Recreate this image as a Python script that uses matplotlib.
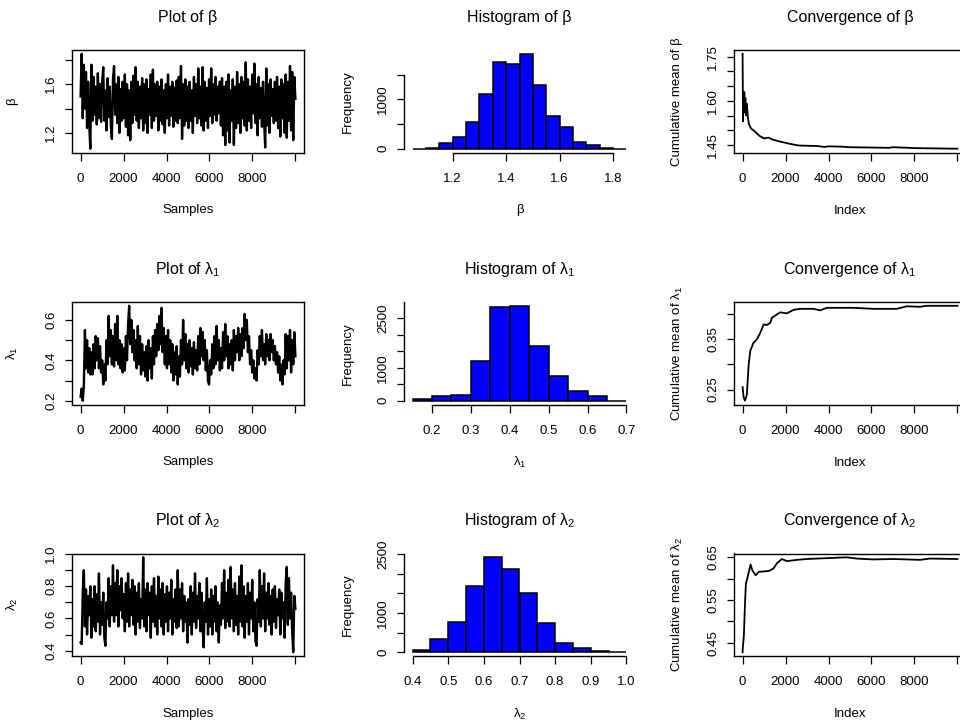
import numpy as np
import matplotlib.pyplot as plt

plt.rcParams['font.family'] = ['Liberation Sans', 'DejaVu Sans']
plt.rcParams['mathtext.fontset'] = 'custom'
plt.rcParams['mathtext.rm'] = 'Liberation Sans'
plt.rcParams['mathtext.it'] = 'Liberation Sans'
plt.rcParams['mathtext.default'] = 'regular'

# ---- trace values (one value per ~50 samples) ----
beta_trace = [
    1.50, 1.85, 1.32, 1.76, 1.40, 1.70, 1.24, 1.62, 1.28, 1.07,
    1.76, 1.30, 1.66, 1.35, 1.58, 1.27, 1.69, 1.32, 1.60, 1.29,
    1.62, 1.74, 1.30, 1.55, 1.22, 1.65, 1.33, 1.58, 1.26, 1.15,
    1.64, 1.75, 1.35, 1.60, 1.28, 1.66, 1.20, 1.56, 1.30, 1.62,
    1.32, 1.68, 1.25, 1.60, 1.18, 1.55, 1.14, 1.62, 1.28, 1.67,
    1.35, 1.74, 1.30, 1.62, 1.24, 1.58, 1.32, 1.65, 1.22, 1.60,
    1.28, 1.64, 1.20, 1.56, 1.35, 1.68, 1.24, 1.72, 1.30, 1.60,
    1.34, 1.62, 1.22, 1.58, 1.30, 1.64, 1.27, 1.55, 1.20, 1.60,
    1.32, 1.68, 1.26, 1.58, 1.34, 1.62, 1.25, 1.57, 1.30, 1.63,
    1.28, 1.66, 1.32, 1.75, 1.15, 1.60, 1.26, 1.64, 1.30, 1.58,
    1.24, 1.62, 1.30, 1.55, 1.20, 1.66, 1.34, 1.60, 1.28, 1.73,
    1.32, 1.58, 1.26, 1.74, 1.22, 1.62, 1.30, 1.57, 1.24, 1.64,
    1.34, 1.73, 1.28, 1.60, 1.35, 1.66, 1.30, 1.58, 1.36, 1.62,
    1.26, 1.65, 1.18, 1.58, 1.10, 1.62, 1.22, 1.68, 1.12, 1.55,
    1.30, 1.64, 1.10, 1.58, 1.24, 1.70, 1.28, 1.60, 1.20, 1.66,
    1.32, 1.62, 1.26, 1.78, 1.22, 1.64, 1.30, 1.58, 1.24, 1.68,
    1.36, 1.77, 1.28, 1.60, 1.18, 1.66, 1.32, 1.57, 1.25, 1.62,
    1.30, 1.08, 1.73, 1.26, 1.60, 1.20, 1.64, 1.34, 1.56, 1.28,
    1.62, 1.30, 1.66, 1.24, 1.58, 1.17, 1.64, 1.32, 1.60, 1.20,
    1.68, 1.16, 1.62, 1.30, 1.75, 1.22, 1.70, 1.14, 1.66, 1.48,
]

lam1_trace = [
    0.22, 0.26, 0.20, 0.27, 0.55, 0.36, 0.50, 0.34, 0.46, 0.33,
    0.44, 0.33, 0.48, 0.36, 0.52, 0.40, 0.51, 0.36, 0.47, 0.34,
    0.40, 0.28, 0.38, 0.30, 0.50, 0.38, 0.62, 0.42, 0.55, 0.38,
    0.52, 0.37, 0.58, 0.40, 0.62, 0.38, 0.50, 0.36, 0.48, 0.34,
    0.46, 0.35, 0.52, 0.40, 0.58, 0.67, 0.48, 0.60, 0.44, 0.55,
    0.40, 0.50, 0.36, 0.57, 0.38, 0.52, 0.33, 0.48, 0.35, 0.44,
    0.32, 0.47, 0.30, 0.50, 0.36, 0.46, 0.31, 0.52, 0.38, 0.55,
    0.42, 0.58, 0.45, 0.62, 0.48, 0.66, 0.44, 0.56, 0.38, 0.52,
    0.36, 0.55, 0.38, 0.50, 0.34, 0.48, 0.30, 0.44, 0.33, 0.47,
    0.28, 0.42, 0.32, 0.50, 0.38, 0.60, 0.40, 0.53, 0.36, 0.48,
    0.34, 0.50, 0.37, 0.46, 0.33, 0.49, 0.36, 0.45, 0.35, 0.52,
    0.38, 0.56, 0.42, 0.54, 0.40, 0.50, 0.35, 0.45, 0.30, 0.28,
    0.40, 0.33, 0.48, 0.36, 0.52, 0.38, 0.57, 0.40, 0.50, 0.35,
    0.46, 0.36, 0.54, 0.40, 0.58, 0.42, 0.52, 0.36, 0.48, 0.38,
    0.50, 0.35, 0.55, 0.40, 0.52, 0.44, 0.56, 0.40, 0.53, 0.42,
    0.56, 0.46, 0.63, 0.50, 0.60, 0.44, 0.52, 0.38, 0.45, 0.34,
    0.40, 0.31, 0.36, 0.30, 0.45, 0.38, 0.52, 0.42, 0.55, 0.40,
    0.48, 0.38, 0.53, 0.42, 0.50, 0.40, 0.53, 0.44, 0.50, 0.40,
    0.47, 0.38, 0.44, 0.34, 0.42, 0.30, 0.38, 0.28, 0.40, 0.33,
    0.53, 0.36, 0.52, 0.40, 0.55, 0.34, 0.50, 0.38, 0.54, 0.42,
]

lam2_trace = [
    0.45, 0.44, 0.76, 0.90, 0.55, 0.78, 0.50, 0.74, 0.62, 0.80,
    0.48, 0.72, 0.55, 0.80, 0.52, 0.75, 0.58, 0.88, 0.50, 0.70,
    0.56, 0.76, 0.48, 0.43, 0.70, 0.60, 0.85, 0.55, 0.80, 0.62,
    0.93, 0.58, 0.82, 0.62, 0.90, 0.55, 0.80, 0.65, 0.85, 0.60,
    0.75, 0.52, 0.82, 0.58, 0.88, 0.55, 0.78, 0.62, 0.84, 0.56,
    0.80, 0.50, 0.76, 0.58, 0.82, 0.54, 0.72, 0.60, 0.98, 0.55,
    0.78, 0.52, 0.82, 0.62, 0.76, 0.48, 0.80, 0.58, 0.85, 0.55,
    0.74, 0.50, 0.86, 0.60, 0.78, 0.55, 0.82, 0.50, 0.75, 0.58,
    0.80, 0.52, 0.76, 0.60, 0.84, 0.50, 0.72, 0.58, 0.78, 0.54,
    0.90, 0.55, 0.78, 0.60, 0.82, 0.52, 0.74, 0.58, 0.70, 0.45,
    0.72, 0.56, 0.80, 0.50, 0.76, 0.58, 0.88, 0.54, 0.74, 0.60,
    0.82, 0.52, 0.76, 0.55, 0.42, 0.70, 0.58, 0.85, 0.50, 0.72,
    0.55, 0.78, 0.50, 0.74, 0.58, 0.80, 0.52, 0.70, 0.45, 0.68,
    0.56, 0.82, 0.60, 0.90, 0.54, 0.76, 0.58, 0.84, 0.55, 0.92,
    0.60, 0.78, 0.52, 0.82, 0.56, 0.74, 0.50, 0.86, 0.58, 0.93,
    0.55, 0.80, 0.48, 0.74, 0.58, 0.82, 0.50, 0.76, 0.60, 0.84,
    0.52, 0.70, 0.46, 0.43, 0.72, 0.58, 0.90, 0.55, 0.80, 0.60,
    0.88, 0.52, 0.76, 0.60, 0.82, 0.56, 0.74, 0.50, 0.78, 0.58,
    0.80, 0.54, 0.72, 0.62, 0.78, 0.50, 0.76, 0.60, 0.70, 0.48,
    0.82, 0.92, 0.56, 0.85, 0.60, 0.76, 0.52, 0.39, 0.74, 0.66,
]

# ---- histogram counts (bin width 0.05) ----
beta_breaks = [1.05, 1.10, 1.15, 1.20, 1.25, 1.30, 1.35, 1.40, 1.45,
               1.50, 1.55, 1.60, 1.65, 1.70, 1.75, 1.80, 1.85]
beta_counts = [3, 12, 116, 230, 537, 1116, 1749, 1708, 1925,
               1300, 673, 435, 143, 67, 10, 2]

lam1_breaks = [0.15, 0.20, 0.25, 0.30, 0.35, 0.40, 0.45, 0.50, 0.55, 0.60, 0.65, 0.70]
lam1_counts = [50, 130, 160, 1210, 2830, 2880, 1670, 740, 280, 130, 5]

lam2_breaks = [0.40, 0.45, 0.50, 0.55, 0.60, 0.65, 0.70, 0.75, 0.80, 0.85, 0.90, 0.95, 1.00]
lam2_counts = [50, 330, 780, 1695, 2415, 2119, 1500, 754, 237, 102, 20, 8]

# ---- cumulative means ----
beta_cm_idx = [1, 20, 40, 60, 80, 100, 130, 160, 200, 250, 300, 400, 500, 650, 800,
               1000, 1200, 1400, 1700, 2000, 2300, 2600, 3000, 3500, 3800, 4000,
               4600, 5000, 6000, 6800, 7000, 7400, 8000, 9000, 10000]
beta_cm = [1.76, 1.53, 1.62, 1.58, 1.63, 1.56, 1.61, 1.55, 1.59, 1.54, 1.52, 1.505,
           1.50, 1.49, 1.48, 1.472, 1.475, 1.468, 1.462, 1.457, 1.452, 1.448, 1.447,
           1.446, 1.443, 1.445, 1.444, 1.442, 1.441, 1.440, 1.442, 1.441, 1.439,
           1.438, 1.437]

lam1_cm_idx = [1, 50, 110, 200, 280, 360, 500, 670, 820, 980, 1130, 1290, 1360,
               1600, 1750, 2060, 2370, 2680, 3300, 3610, 3920, 4540, 5160, 6090,
               7180, 7640, 8260, 8570, 10000]
lam1_cm = [0.255, 0.235, 0.228, 0.24, 0.298, 0.327, 0.342, 0.350, 0.362, 0.379,
           0.378, 0.382, 0.392, 0.399, 0.403, 0.401, 0.408, 0.410, 0.410, 0.407,
           0.412, 0.412, 0.412, 0.410, 0.410, 0.415, 0.414, 0.416, 0.416]

lam2_cm_idx = [1, 14, 62, 108, 155, 217, 372, 450, 605, 760, 1225, 1442, 1597,
               1830, 2062, 2527, 2992, 3920, 4850, 5317, 6090, 7020, 8260, 8725, 10000]
lam2_cm = [0.428, 0.44, 0.468, 0.536, 0.589, 0.600, 0.633, 0.620, 0.608, 0.616,
           0.618, 0.624, 0.636, 0.646, 0.641, 0.644, 0.646, 0.648, 0.650, 0.647,
           0.645, 0.646, 0.644, 0.647, 0.646]

names = ['β', r'$\lambda_1$', r'$\lambda_2$']
traces = [beta_trace, lam1_trace, lam2_trace]
hists = [(beta_breaks, beta_counts), (lam1_breaks, lam1_counts), (lam2_breaks, lam2_counts)]
cms = [(beta_cm_idx, beta_cm), (lam1_cm_idx, lam1_cm), (lam2_cm_idx, lam2_cm)]

trace_yticks = [[1.2, 1.4, 1.6, 1.8], [0.2, 0.3, 0.4, 0.5, 0.6],
                [0.4, 0.5, 0.6, 0.7, 0.8, 0.9, 1.0]]
trace_ylabels = [['1.2', '', '1.6', ''], ['0.2', '', '0.4', '', '0.6'],
                 ['0.4', '', '0.6', '', '0.8', '', '1.0']]
hist_xticks = [[1.2, 1.4, 1.6, 1.8], [0.2, 0.3, 0.4, 0.5, 0.6, 0.7],
               [0.4, 0.5, 0.6, 0.7, 0.8, 0.9, 1.0]]
hist_xlabels = [['1.2', '1.4', '1.6', '1.8'], ['0.2', '0.3', '0.4', '0.5', '0.6', '0.7'],
                ['0.4', '0.5', '0.6', '0.7', '0.8', '0.9', '1.0']]
hist_yticks = [[0, 500, 1000, 1500], [0, 500, 1000, 1500, 2000, 2500, 3000],
               [0, 500, 1000, 1500, 2000, 2500]]
hist_ylabels = [['0', '', '1000', ''], ['0', '', '1000', '', '', '2500', ''],
                ['0', '', '1000', '', '', '2500']]
cm_yticks = [[1.45, 1.50, 1.55, 1.60, 1.65, 1.70, 1.75], [0.25, 0.30, 0.35, 0.40],
             [0.45, 0.50, 0.55, 0.60, 0.65]]
cm_ylabels = [['1.45', '', '', '1.60', '', '', '1.75'], ['0.25', '', '0.35', ''],
              ['0.45', '', '0.55', '', '0.65']]
idx_ticks = [0, 2000, 4000, 6000, 8000, 10000]
idx_labels = ['0', '2000', '4000', '6000', '8000', '']

# ---- layout in pixels ----
W, H = 960, 722
fig = plt.figure(figsize=(W / 100, H / 100), dpi=100)
col_left = [72, 404, 734]
col_width = [232, 231, 232]
row_top = [50, 302, 553.5]
ph = 102.5
FS = 9.5


def rlim(lo, hi):
    d = (hi - lo) * 0.04
    return lo - d, hi + d


def make_ax(r, c):
    return fig.add_axes([col_left[c] / W, 1 - (row_top[r] + ph) / H,
                         col_width[c] / W, ph / H])


def dress(ax, c, title, xlabel, ylabel, xt, xl, yt, yl):
    ax.set_xticks(xt)
    ax.set_xticklabels(xl)
    ax.set_yticks(yt)
    ax.set_yticklabels(yl, rotation=90, va='center', ha='center')
    ax.tick_params(axis='both', direction='out', length=5.4, width=0.9,
                   labelsize=FS, color='black')
    ax.tick_params(axis='x', pad=9)
    ax.tick_params(axis='y', pad=9.5)
    w = col_width[c]
    ax.text(0.5, 1 + 32.5 / ph, title, transform=ax.transAxes, ha='center',
            va='center', fontsize=11.5)
    ax.text(0.5, -58 / ph, xlabel, transform=ax.transAxes, ha='center',
            va='center', fontsize=FS)
    off = [60, 56, 57][c]
    ax.text(-off / w, 0.5, ylabel, transform=ax.transAxes, ha='center',
            va='center', rotation=90, fontsize=FS)


for r in range(3):
    nm = names[r]

    # trace
    ax = make_ax(r, 0)
    vals = traces[r]
    xs = np.linspace(1, 10000, len(vals))
    ax.plot(xs, vals, color='black', lw=1.7)
    for s in ax.spines.values():
        s.set_linewidth(1.0)
    dress(ax, 0, 'Plot of ' + nm, 'Samples', nm, idx_ticks, idx_labels,
          trace_yticks[r], trace_ylabels[r])
    ax.set_xlim(rlim(1, 10000))
    ax.set_ylim(rlim(min(vals), max(vals)))

    # histogram
    ax = make_ax(r, 1)
    br, ct = hists[r]
    ax.bar(br[:-1], ct, width=np.diff(br), align='edge', color='#0000ff',
           edgecolor='black', linewidth=1.1)
    dress(ax, 1, 'Histogram of ' + nm, nm, 'Frequency', hist_xticks[r],
          hist_xlabels[r], hist_yticks[r], hist_ylabels[r])
    ax.set_xlim(rlim(br[0], br[-1]))
    ax.set_ylim(rlim(0, max(ct)))
    ax.spines['top'].set_visible(False)
    ax.spines['right'].set_visible(False)
    ax.spines['left'].set_bounds(hist_yticks[r][0], hist_yticks[r][-1])
    ax.spines['bottom'].set_bounds(hist_xticks[r][0], hist_xticks[r][-1])
    ax.spines['left'].set_linewidth(1.0)
    ax.spines['bottom'].set_linewidth(1.0)

    # convergence
    ax = make_ax(r, 2)
    ix, cm = cms[r]
    ax.plot(ix, cm, color='black', lw=1.3)
    for s in ax.spines.values():
        s.set_linewidth(1.0)
    dress(ax, 2, 'Convergence of ' + nm, 'Index', 'Cumulative mean of ' + nm,
          idx_ticks, idx_labels, cm_yticks[r], cm_ylabels[r])
    ax.set_xlim(rlim(1, 10000))
    ax.set_ylim(rlim(min(cm), max(cm)))

fig.savefig('out.png', dpi=100)
